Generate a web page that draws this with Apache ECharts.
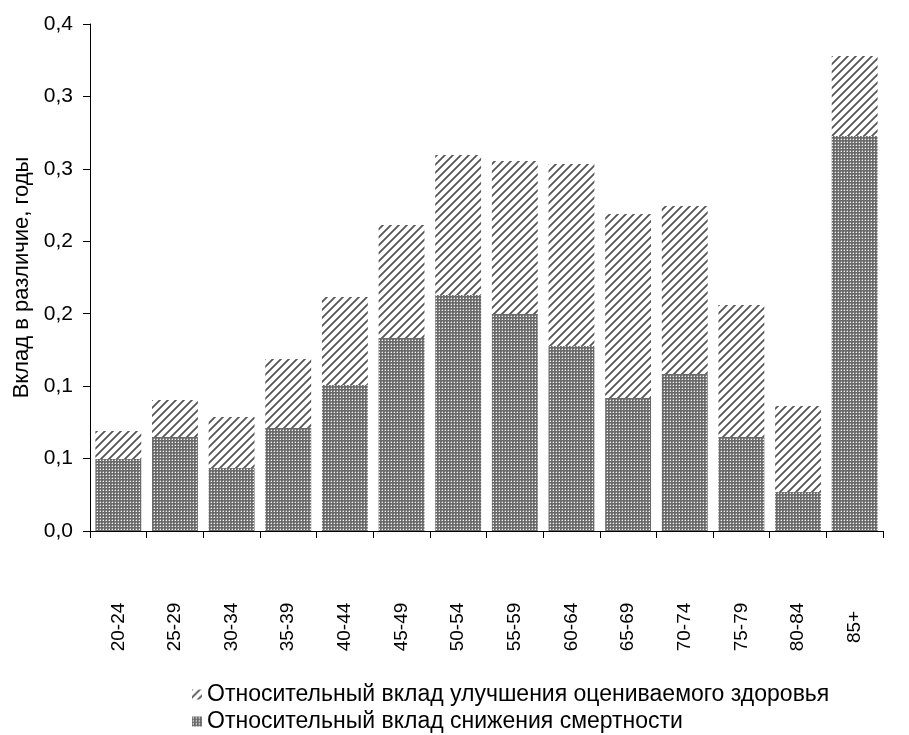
<!DOCTYPE html>
<html><head><meta charset="utf-8">
<script src="https://cdn.jsdelivr.net/npm/echarts@6/dist/echarts.min.js"></script>
<style>html,body{margin:0;padding:0;background:#fff}#c{width:909px;height:735px}</style>
</head><body><div id="c"></div>
<script>
const categories = ['20-24','25-29','30-34','35-39','40-44','45-49','50-54','55-59','60-64','65-69','70-74','75-79','80-84','85+'];
const mortality = [0.0497,0.0649,0.0435,0.0711,0.1008,0.1332,0.1629,0.1498,0.1277,0.0918,0.1084,0.0649,0.0269,0.2727];
const health = [0.0193,0.0255,0.0352,0.0476,0.0607,0.0780,0.0967,0.1056,0.1256,0.1270,0.1160,0.0911,0.0594,0.0552];
const yTickLabels = ['0,0','0,1','0,1','0,2','0,2','0,3','0,3','0,4'];
const seriesNames = ['Относительный вклад улучшения оцениваемого здоровья','Относительный вклад снижения смертности'];
const yAxisTitle = 'Вклад в различие, годы';

function checker(){
  const c=document.createElement('canvas');c.width=3;c.height=3;const g=c.getContext('2d');
  g.fillStyle='#6a6a6a';g.fillRect(0,0,3,3);
  g.fillStyle='#9a9a9a';g.fillRect(0,1,1,1);g.fillRect(1,0,1,1);
  g.fillStyle='#f2f2f2';g.fillRect(1,1,1,1);
  return c;
}
function hatch(){
  const s=8;const c=document.createElement('canvas');c.width=s;c.height=s;const g=c.getContext('2d');
  g.fillStyle='#ffffff';g.fillRect(0,0,s,s);
  g.strokeStyle='#555555';g.lineWidth=1.8;
  g.beginPath();
  g.moveTo(-1,s+1);g.lineTo(s+1,-1);
  g.moveTo(-1,1);g.lineTo(1,-1);
  g.moveTo(s-1,s+1);g.lineTo(s+1,s-1);
  g.stroke();
  return c;
}
const chart = echarts.init(document.getElementById('c'), null, {renderer:'canvas'});
const font = 'Liberation Sans, Arial, sans-serif';
const legendText = {fontFamily:font,fontSize:23,color:'#000'};
chart.setOption({
  animation:false,
  textStyle:{fontFamily:font,color:'#000'},
  grid:{left:90,right:26,top:24,bottom:204,containLabel:false},
  legend:[
    {orient:'horizontal',left:192,top:683,itemWidth:10,itemHeight:10,itemGap:4,padding:0,
     data:[seriesNames[0]],textStyle:legendText,icon:'rect'},
    {orient:'horizontal',left:192,top:710,itemWidth:10,itemHeight:10,itemGap:4,padding:0,
     data:[seriesNames[1]],textStyle:legendText,icon:'rect'}
  ],
  xAxis:{
    type:'category',data:categories,
    axisLine:{lineStyle:{color:'#000',width:1}},
    axisTick:{show:true,length:7,lineStyle:{color:'#000'},alignWithLabel:false},
    axisLabel:{rotate:90,align:'center',verticalAlign:'middle',margin:96,fontSize:19,color:'#000',fontFamily:font,interval:0}
  },
  yAxis:{
    type:'value',min:0,max:0.35,interval:0.05,
    name:yAxisTitle,nameLocation:'middle',nameRotate:90,nameGap:57,
    nameTextStyle:{fontSize:22,color:'#000',fontFamily:font},
    axisLine:{show:true,lineStyle:{color:'#000',width:1}},
    axisTick:{show:true,length:7,lineStyle:{color:'#000'}},
    splitLine:{show:false},
    axisLabel:{fontSize:21,color:'#000',fontFamily:font,margin:17,
      formatter:function(v){return yTickLabels[Math.round(v/0.05)];}}
  },
  series:[
    {name:seriesNames[1],type:'bar',stack:'t',data:mortality,barCategoryGap:'19%',
     itemStyle:{color:{image:checker(),repeat:'repeat'}}},
    {name:seriesNames[0],type:'bar',stack:'t',data:health,barCategoryGap:'19%',
     itemStyle:{color:{image:hatch(),repeat:'repeat'}}}
  ]
});
</script></body></html>
